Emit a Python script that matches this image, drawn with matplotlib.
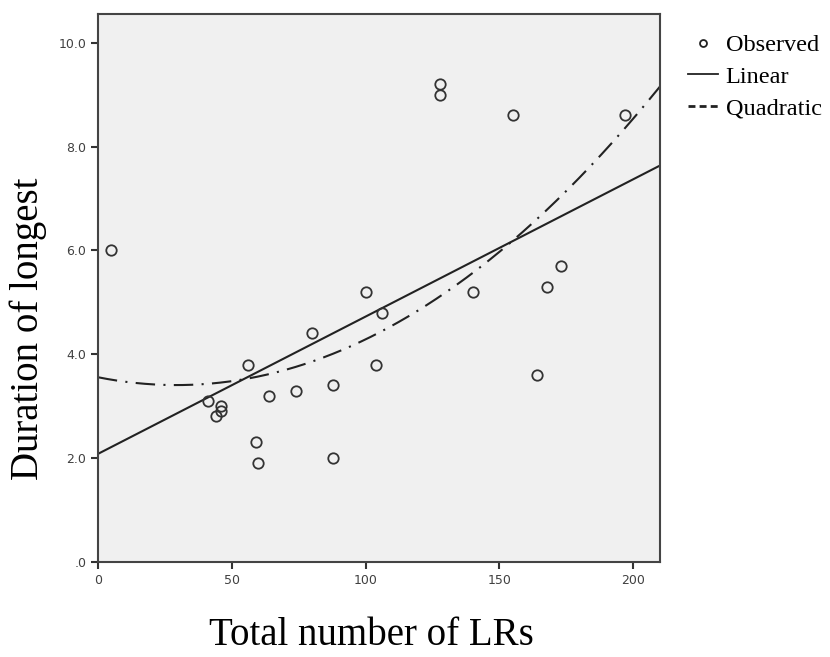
import numpy as np
import matplotlib
matplotlib.use("Agg")
import matplotlib.pyplot as plt
from matplotlib.lines import Line2D
from matplotlib.ticker import FuncFormatter

# observed points
total_lrs = [5, 41, 44, 46, 46, 56, 59, 60, 64, 74, 80, 88, 88, 100, 104, 106,
             128, 128, 140, 155, 164, 168, 173, 197]
duration = [6.0, 3.1, 2.8, 3.0, 2.9, 3.8, 2.3, 1.9, 3.2, 3.3, 4.4, 3.4, 2.0, 5.2,
            3.8, 4.8, 9.2, 9.0, 5.2, 8.6, 3.6, 5.3, 5.7, 8.6]
x_ticks = [0, 50, 100, 150, 200]
y_ticks = [0, 2, 4, 6, 8, 10]

x = np.array(total_lrs, dtype=float)
y = np.array(duration, dtype=float)
lin = np.polyfit(x, y, 1)
quad = np.polyfit(x, y, 2)
xs = np.linspace(0, 210, 300)

plt.rcParams['lines.scale_dashes'] = False

fig = plt.figure(figsize=(8.3, 6.57), dpi=100)
ax = fig.add_axes([0.118, 0.145, 0.677, 0.834])
ax.set_facecolor('#f0f0f0')

ax.plot(xs, np.polyval(lin, xs), color='#222222', lw=1.5)
ax.plot(xs, np.polyval(quad, xs), color='#222222', lw=1.5,
        linestyle=(0, (14, 6, 1.5, 6)))
ax.plot(x, y, 'o', mfc='none', mec='#333333', ms=7.5, mew=1.3)

ax.set_xlim(0, 210)
ax.set_ylim(0, 10.56)
ax.set_xticks(x_ticks)
ax.set_yticks(y_ticks)
ax.yaxis.set_major_formatter(FuncFormatter(lambda v, p: f"{v:.1f}".lstrip('0') if v < 1 else f"{v:.1f}"))
ax.tick_params(direction='out', length=5, width=1.5, color='#333333',
               labelsize=9, labelcolor='#404040')
for s in ax.spines.values():
    s.set_color('#444444')
    s.set_linewidth(1.5)

serif = 'Liberation Serif'
fig.text(0.448, 0.018, 'Total number of LRs', fontsize=28, family=serif,
         ha='center', va='baseline')
fig.text(0.034, 0.50, 'Duration of longest', fontsize=28, family=serif,
         rotation=90, ha='center', va='center')

handles = [
    Line2D([], [], marker='o', ls='none', mfc='none', mec='#222222', ms=5, mew=1.3),
    Line2D([], [], color='#222222', lw=1.3),
    Line2D([], [], color='#222222', lw=2, ls=(0, (5, 3))),
]
fig.legend(handles, ['Observed', 'Linear', 'Quadratic'], loc='upper left',
           bbox_to_anchor=(0.829, 0.948), frameon=False, borderpad=0,
           borderaxespad=0, handlelength=1.25, handletextpad=0.3,
           labelspacing=0.4, prop={'family': serif, 'size': 17.5})

fig.savefig('out.png', dpi=100)
